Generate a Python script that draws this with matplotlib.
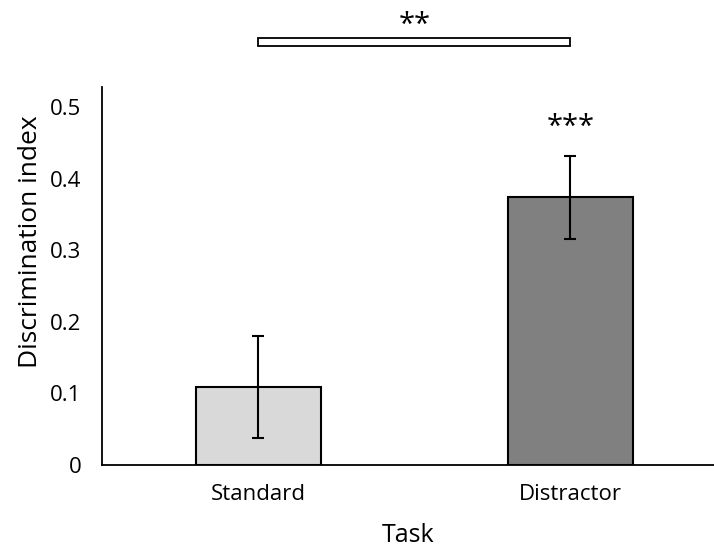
import matplotlib.pyplot as plt
import matplotlib.patches as mpatches
import numpy as np

plt.rcParams['font.family'] = ['Open Sans', 'DejaVu Sans']

# discrimination index per task, with error bars
tasks = ['Standard', 'Distractor']
means = [0.109, 0.374]
errors = [0.071, 0.058]
bar_colors = ['#d9d9d9', '#808080']
bar_stars = ['', '***']
pair_stars = '**'

fig = plt.figure(figsize=(7.14, 5.5), dpi=100)
ax = fig.add_axes([102 / 714, 85 / 550, 1 - 102 / 714, 378 / 550])

x = np.arange(len(tasks))
ax.bar(x, means, width=0.4, color=bar_colors, edgecolor='black', linewidth=1.5, zorder=2)
ax.errorbar(x, means, yerr=errors, fmt='none', ecolor='black', elinewidth=1.5,
            capsize=4, capthick=1.5, zorder=3)

for xi, m, e, s in zip(x, means, errors, bar_stars):
    if s:
        ax.text(xi, m + e + 0.04, s, ha='center', va='center', fontsize=21)

# comparison bracket between the two tasks
box = mpatches.Rectangle((0, 0.585), 1, 0.011, facecolor='white', edgecolor='black',
                         linewidth=1.3, clip_on=False, transform=ax.transData)
ax.add_patch(box)
ax.text(0.5, 0.614, pair_stars, ha='center', va='center', fontsize=21)

ax.set_xlim(-0.5, 1.46)
ax.set_ylim(0, 0.528)
ax.set_yticks([0, 0.1, 0.2, 0.3, 0.4, 0.5])
ax.set_yticklabels(['0', '0.1', '0.2', '0.3', '0.4', '0.5'])
ax.set_xticks(x)
ax.set_xticklabels(tasks)
ax.tick_params(axis='both', length=0, labelsize=16, pad=14)
ax.tick_params(axis='y', pad=15)

for side in ['top', 'right']:
    ax.spines[side].set_visible(False)
for side in ['left', 'bottom']:
    ax.spines[side].set_linewidth(1.3)

ax.set_ylabel('Discrimination index', fontsize=19)
ax.yaxis.set_label_coords(-0.097, 0.59)
ax.set_xlabel('Task', fontsize=18, labelpad=13)

fig.savefig('out.png', dpi=100)
